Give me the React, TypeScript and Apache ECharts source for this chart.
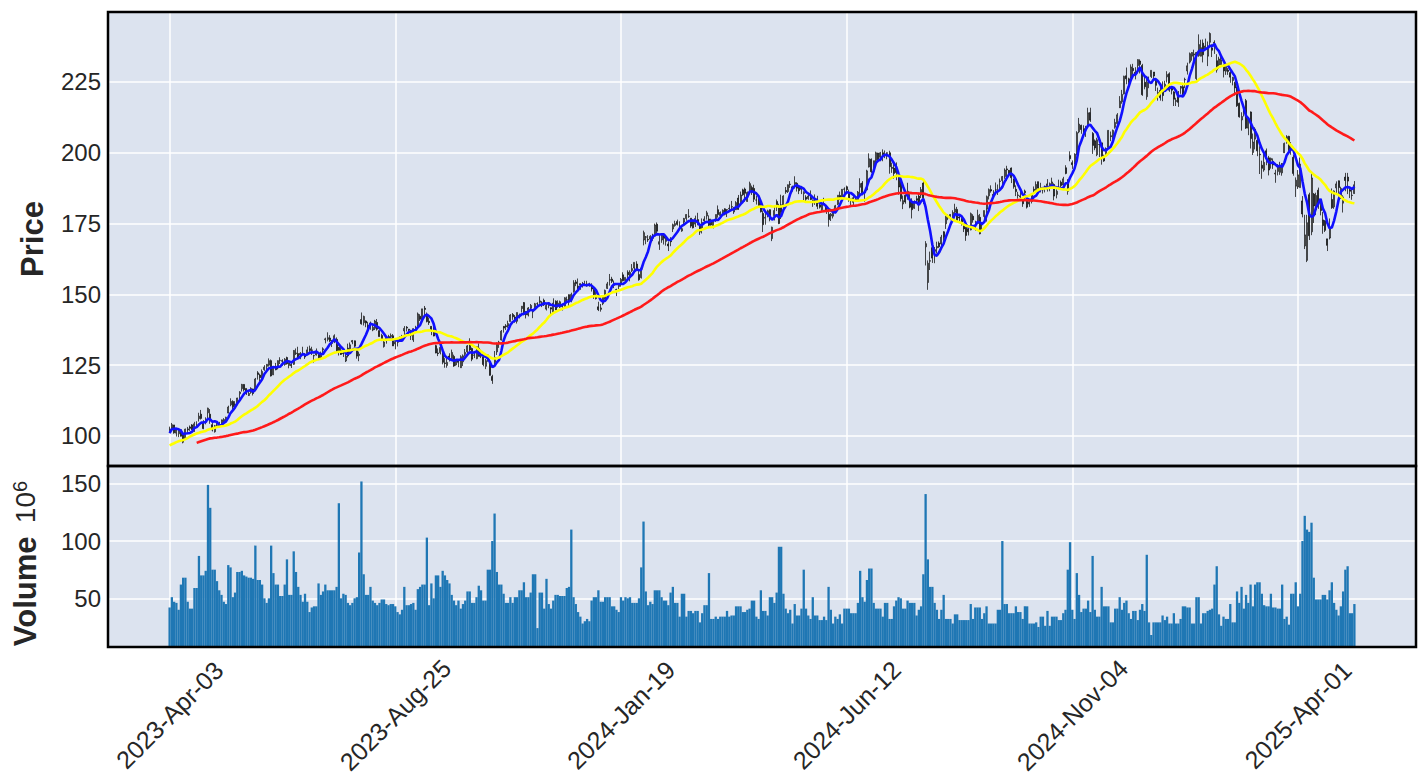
import React, { useEffect, useRef } from "react";
import * as echarts from "echarts";

// Each row: [open, high, low, close, volume (millions)] — one trading day
type Row = [number, number, number, number, number];

// Closes Jan 3 – Mar 31 2023, only used to warm up the moving averages
const closesBeforeApr2023 = [
  85.8, 85.1, 83.1, 86.1, 87.4, 89.9, 95.1, 95.3, 98.1, 96.1, 95.5, 93.7, 97.3, 97.5, 96.3, 97.2, 99.2, 102.2, 100.6, 103.1,
  105.2, 112.9, 103.4, 102.2, 102.1, 100.1, 98.2, 97.6, 99.5, 99.7, 101.2, 98.2, 97.2, 94.6, 95.8, 95.8, 93.5, 93.8, 94.2,
  92.2, 92.1, 94.9, 93.8, 93.6, 93.9, 92.3, 90.7, 92.4, 94.9, 96.2, 100.0, 99.0, 97.7, 100.6, 98.7, 98.7, 98.1, 98.0, 97.2, 100.3, 102.0, 103.3,
];

const apr2023: Row[] = [[102.3,103.3,101.0,102.4,42],[102.8,104.6,102.4,104.0,51],[103.9,103.9,100.8,101.1,47],[101.0,102.4,99.8,102.1,46],[100.8,102.2,99.6,102.2,40],[102.2,102.4,99.8,99.9,62],[100.4,100.5,97.4,97.8,68],[98.9,102.6,98.7,102.4,68],[102.1,103.2,101.1,102.5,47],[103.2,103.7,101.8,102.7,41],[103.9,104.2,102.1,102.3,41],[101.6,105.0,101.5,104.3,59],[103.5,105.2,103.2,103.8,59],[106.1,108.2,105.1,107.0,87],[107.7,109.2,105.8,106.2,70],[104.9,105.6,102.4,102.6,70],[105.0,106.6,104.1,105.0,74],[108.2,110.0,106.0,109.8,149],[107.7,109.5,104.3,105.5,129]];
const may2023: Row[] = [[104.0,105.2,101.6,102.1,75],[101.5,103.9,101.2,103.6,75],[103.7,105.0,103.3,103.7,65],[104.0,105.0,103.3,104.0,57],[104.3,105.8,103.6,105.7,53],[105.0,106.3,104.7,105.8,47],[105.6,106.8,105.2,106.6,45],[108.1,110.7,108.0,110.2,79],[111.0,113.3,110.5,112.2,77],[112.2,112.6,109.3,110.3,51],[111.1,112.3,109.3,111.2,55],[111.1,113.5,110.9,113.4,73],[114.9,115.8,112.9,115.5,73],[116.7,118.4,115.7,118.2,74],[118.2,118.3,115.7,116.3,70],[116.8,116.8,114.5,115.0,69],[114.3,115.8,114.1,115.0,68],[115.4,117.2,114.9,116.8,68],[116.6,116.7,114.3,115.0,67],[116.0,120.5,115.8,120.1,96],[122.3,122.9,119.9,121.7,66],[121.5,122.0,119.2,120.6,66]];
const jun2023: Row[] = [[120.7,123.5,119.9,122.8,62],[123.4,125.0,123.0,124.3,50],[124.6,125.4,123.0,125.3,46],[125.0,127.4,124.5,126.6,50],[126.6,127.0,121.0,121.2,96],[121.6,124.4,121.5,124.3,72],[124.1,125.8,123.2,123.4,62],[124.0,126.7,123.5,126.6,62],[126.7,127.8,125.4,126.7,52],[126.6,127.1,124.7,126.4,52],[125.2,127.5,124.8,127.1,62],[127.7,128.0,125.2,125.5,84],[124.9,126.0,123.9,125.8,53],[125.3,126.2,124.0,124.8,53],[125.3,130.3,125.1,130.2,91],[129.1,130.9,128.6,129.3,73],[129.1,131.5,127.1,127.3,60],[128.6,129.6,127.1,129.2,53],[128.9,131.5,128.4,129.0,47],[128.8,129.3,127.2,127.9,54],[129.1,131.5,128.7,130.4,47]];
const jul2023: Row[] = [[130.8,131.9,129.6,130.2,38],[130.2,131.5,128.6,130.4,42],[128.3,128.7,125.9,128.4,43],[128.6,130.9,128.4,129.8,43],[129.1,129.3,126.8,127.1,63],[127.8,129.8,127.1,128.8,53],[130.4,131.3,128.9,130.8,56],[134.0,134.7,132.7,134.3,62],[134.1,136.6,133.4,134.7,57],[134.6,135.6,133.2,133.6,57],[132.7,133.9,131.4,132.8,57],[133.4,135.9,132.8,135.4,57],[134.1,134.8,129.3,130.0,60],[131.3,131.4,128.4,130.0,133],[130.3,131.7,128.6,128.8,50],[129.3,129.6,127.9,129.1,54],[126.5,129.1,126.1,128.2,53],[131.0,132.6,127.7,128.3,46],[129.7,133.0,129.3,132.2,44],[133.2,133.9,132.4,133.7,46]];
const aug2023: Row[] = [[133.6,133.7,131.3,131.7,50],[130.2,130.2,127.3,128.2,51],[128.4,129.8,126.4,128.9,90],[141.1,143.6,139.3,139.6,152],[140.0,142.5,139.0,142.2,71],[140.6,140.8,138.4,139.9,53],[139.1,140.3,137.1,137.9,53],[139.9,140.4,137.5,138.6,60],[137.4,139.3,137.0,138.4,48],[138.0,141.0,137.4,140.6,46],[140.1,141.3,137.2,137.7,44],[137.2,137.3,135.0,135.1,46],[135.5,136.1,133.5,134.0,49],[131.6,134.1,131.2,133.2,49],[133.7,135.2,132.6,134.7,45],[135.1,135.7,133.9,134.3,44],[135.1,136.2,134.4,135.5,45],[135.4,136.0,131.8,131.8,45],[132.5,133.9,130.6,133.3,43],[133.8,133.9,131.6,133.1,38],[133.4,135.1,133.3,134.9,36],[135.1,135.7,133.9,135.1,40],[137.1,138.8,135.0,138.0,60]];
const sep2023: Row[] = [[138.4,138.8,136.9,138.1,44],[137.7,137.8,135.8,137.3,44],[136.3,137.5,133.9,135.4,45],[133.9,138.0,133.2,137.9,46],[136.9,138.9,136.8,138.2,40],[138.8,143.6,138.6,143.1,58],[142.3,143.0,140.6,141.2,60],[140.9,144.9,140.7,144.9,62],[145.1,145.9,142.7,144.7,62],[142.7,143.6,140.1,140.4,103],[140.5,141.8,139.2,140.0,44],[138.7,138.8,135.6,137.6,63],[138.6,139.7,135.2,135.3,50],[131.9,132.2,129.2,129.3,70],[129.3,130.9,128.2,129.1,70],[129.4,131.8,128.8,131.3,60],[129.7,130.4,125.3,126.0,74],[125.8,127.5,124.1,125.6,70],[124.9,127.5,124.1,126.0,66],[128.2,129.2,126.3,127.1,63]];
const oct2023: Row[] = [[127.3,130.5,126.5,129.5,53],[128.1,128.7,124.4,124.7,48],[125.1,127.2,124.8,127.0,44],[126.5,126.8,124.3,126.0,48],[124.1,128.5,124.0,128.0,41],[126.2,128.8,124.7,128.3,45],[128.8,130.7,128.1,129.5,48],[129.7,132.1,128.4,131.8,56],[132.2,134.5,129.9,130.4,56],[130.9,131.2,126.4,127.1,46],[128.5,129.6,127.5,128.6,46],[127.3,131.7,127.1,131.5,51],[131.0,132.7,128.1,128.1,61],[128.2,130.5,127.5,128.4,57],[128.0,128.3,124.6,125.2,48],[124.6,127.2,123.6,126.6,48],[127.7,128.8,126.2,128.6,75],[126.0,126.4,121.3,121.4,75],[121.0,121.6,118.4,119.6,100],[126.0,130.0,125.3,127.7,124],[129.7,133.0,128.6,132.7,73],[132.8,133.6,131.1,133.1,62]];
const nov2023: Row[] = [[133.9,137.4,133.7,137.0,62],[138.7,138.8,136.5,138.1,54],[138.9,139.5,137.4,138.6,46],[138.8,140.7,138.2,139.7,46],[140.4,143.0,140.4,142.7,51],[142.9,143.4,141.0,142.1,46],[142.0,142.7,140.0,140.6,51],[140.5,143.6,139.7,143.6,51],[142.1,143.2,141.5,142.6,57],[145.0,145.9,143.6,145.8,57],[147.1,147.3,142.6,143.2,64],[143.9,144.1,141.5,142.8,51],[142.7,145.5,142.2,145.2,51],[145.1,146.6,144.7,146.1,55],[143.9,144.1,141.6,143.9,71],[144.6,147.0,144.6,146.7,71],[146.7,147.2,145.3,146.7,24],[147.2,149.3,146.7,147.7,55],[146.9,147.6,145.5,147.0,55],[147.9,148.5,145.9,146.3,41],[144.8,146.9,144.3,146.1,67]];
const dec2023: Row[] = [[146.0,147.3,145.1,147.0,45],[145.3,145.4,142.8,144.8,41],[143.6,148.6,143.6,146.9,48],[147.6,147.9,144.5,144.5,53],[146.2,147.9,145.3,146.9,53],[145.5,147.8,145.2,147.4,52],[145.7,146.2,144.3,145.9,52],[145.5,149.0,145.4,148.8,52],[148.1,149.2,147.2,148.1,59],[149.9,150.0,145.8,147.4,60],[148.4,150.6,147.2,150.0,110],[151.0,155.0,150.6,154.1,51],[154.4,155.1,152.9,153.8,45],[152.9,155.6,151.6,152.1,38],[153.3,153.9,151.6,153.8,34],[153.8,154.4,152.4,153.4,28],[153.6,154.8,153.1,153.4,30],[153.6,154.8,152.7,153.3,32],[153.7,154.1,152.7,153.4,30],[153.1,153.9,151.0,151.9,48]];
const jan2024: Row[] = [[151.5,152.4,148.4,149.9,51],[149.2,151.1,148.2,148.5,51],[145.6,147.4,144.1,144.6,57],[144.7,146.6,143.9,145.2,47],[146.7,149.4,146.2,149.1,47],[148.3,151.7,148.2,151.4,51],[152.1,154.4,151.9,153.7,51],[155.0,157.2,153.1,155.2,51],[155.4,156.2,154.0,154.6,43],[153.5,154.9,152.2,153.2,43],[151.5,152.0,149.4,151.7,40],[152.8,154.0,151.9,153.5,38],[154.0,155.8,152.7,155.3,51],[156.9,157.8,154.6,154.8,48],[154.9,156.0,153.9,156.0,51],[157.8,158.5,155.7,156.9,50],[156.9,158.5,154.6,157.8,51],[158.4,160.7,157.9,159.1,46],[159.3,161.3,158.4,161.3,46],[160.7,161.7,158.5,159.0,46],[157.0,159.0,154.8,155.2,50]];
const feb2024: Row[] = [[155.9,159.8,155.6,159.3,77],[169.2,172.5,167.3,171.8,117],[170.2,170.6,167.7,170.3,56],[169.4,170.9,168.5,169.2,44],[169.5,170.9,168.6,170.5,47],[170.9,171.4,168.9,169.8,45],[170.6,175.0,170.6,174.5,57],[174.8,175.4,171.5,172.3,57],[167.7,170.9,165.7,168.6,57],[169.2,171.2,168.2,171.0,51],[170.6,171.2,167.6,169.8,48],[168.7,170.4,167.2,169.5,48],[167.8,168.7,165.3,167.1,44],[168.9,170.2,167.0,168.6,55],[173.1,175.0,172.0,174.6,60],[174.3,176.0,173.9,175.0,46],[175.7,176.4,174.3,174.7,46],[174.1,175.8,173.0,173.5,34],[172.4,174.0,172.1,173.2,54],[175.5,177.0,174.6,176.8,54]];
const mar2024: Row[] = [[176.8,178.3,176.0,178.2,34],[177.5,180.1,177.0,177.6,39],[176.9,176.9,173.5,174.1,39],[175.5,176.5,173.3,173.5,37],[174.8,177.8,173.8,176.8,39],[176.4,178.8,174.4,175.4,39],[174.3,174.5,171.0,172.0,29],[173.5,176.8,171.5,175.4,37],[175.9,177.6,175.6,176.6,44],[177.7,179.5,176.4,178.8,44],[176.6,177.9,173.6,174.4,72],[175.8,176.7,174.3,174.5,32],[174.2,176.1,173.3,175.9,32],[176.1,178.2,175.6,178.2,34],[179.9,181.4,177.1,178.2,32],[177.8,179.3,176.8,178.9,34],[178.0,180.0,177.8,179.7,34],[180.2,180.4,177.9,178.3,34],[179.9,180.0,177.3,179.8,39],[180.2,181.7,179.3,180.4,34]];
const apr2024: Row[] = [[180.8,183.0,179.9,181.0,35],[179.1,180.8,178.4,180.7,35],[179.9,182.9,179.8,182.4,43],[184.0,185.1,179.9,180.0,43],[182.4,186.3,181.9,185.1,43],[186.9,187.3,184.8,185.2,38],[187.2,187.7,182.7,185.7,38],[182.8,186.3,182.7,186.0,40],[186.7,189.8,185.4,189.1,41],[187.7,188.4,185.1,186.1,48],[187.4,188.7,182.6,183.6,48],[183.3,184.8,181.7,183.3,34],[184.3,184.6,180.8,181.3,32],[181.5,182.4,178.9,179.2,57],[178.6,179.6,172.0,174.6,39],[176.9,178.9,174.6,177.2,39],[178.1,179.9,177.2,179.5,35],[179.9,180.0,175.8,176.6,51],[169.7,173.9,168.8,173.7,51],[177.8,180.8,176.1,179.6,46],[182.8,183.5,179.4,181.0,55],[181.1,182.0,174.8,175.0,95]];
const may2024: Row[] = [[181.6,185.2,176.6,179.0,95],[180.9,185.0,179.4,184.7,54],[186.7,187.9,185.5,186.2,41],[186.3,188.8,185.8,188.7,37],[188.9,190.0,187.6,188.8,40],[187.4,188.4,186.3,188.0,28],[188.9,191.7,187.4,189.5,45],[189.2,189.6,186.3,187.5,35],[188.0,188.3,185.4,186.6,35],[187.6,188.3,185.4,187.1,41],[185.6,186.4,182.8,186.0,75],[184.3,185.0,182.3,183.6,41],[183.8,185.3,183.4,184.7,35],[184.3,186.7,183.3,183.5,32],[182.3,183.5,180.9,183.2,51],[183.9,185.3,181.6,183.1,35],[183.7,184.8,180.1,181.1,35],[181.6,182.4,180.3,180.8,31],[179.9,182.2,179.5,182.2,31],[181.7,184.1,181.5,182.0,34],[181.3,181.6,178.4,179.3,31],[178.3,179.2,173.9,176.4,60]];
const jun2024: Row[] = [[177.7,178.7,175.9,178.3,40],[177.6,179.8,176.8,179.3,28],[180.1,181.6,178.6,181.3,34],[181.8,185.0,181.5,185.0,32],[184.9,186.3,183.3,184.3,36],[184.1,187.2,183.9,187.1,28],[187.1,187.8,184.6,187.2,41],[188.0,188.4,185.8,186.9,41],[186.1,187.0,182.7,183.8,41],[183.1,183.7,181.5,183.7,37],[182.5,185.0,181.2,184.1,37],[183.7,184.3,182.7,182.8,37],[182.9,186.5,182.7,186.1,46],[187.8,191.0,185.1,189.1,74],[189.3,190.0,185.0,185.6,51],[186.5,186.5,182.7,186.3,47],[186.9,194.0,186.6,193.6,66],[195.0,199.8,194.8,197.9,76],[197.7,198.0,192.9,193.3,76]];
const jul2024: Row[] = [[193.6,197.2,192.5,197.2,46],[197.3,200.4,195.9,200.0,41],[199.9,200.0,196.7,197.6,41],[198.4,200.3,197.0,200.0,41],[200.0,201.2,197.0,199.3,34],[199.5,200.8,198.1,199.3,46],[200.0,200.1,197.7,199.8,46],[200.0,200.7,192.6,195.1,32],[194.8,196.5,192.9,194.5,32],[194.6,196.2,190.8,192.7,43],[195.6,196.6,190.3,193.0,48],[191.4,191.6,185.2,187.9,51],[189.6,189.7,182.8,183.8,50],[181.9,184.9,180.1,183.1,41],[185.0,185.1,182.0,182.6,41],[184.1,189.4,183.4,186.4,48],[183.2,185.4,180.4,180.8,46],[182.9,183.9,176.8,179.9,46],[180.4,183.2,180.2,182.5,46],[183.8,184.8,182.0,183.2,35],[184.7,185.9,179.4,181.7,40],[185.1,187.9,184.0,187.0,43]];
const aug2024: Row[] = [[189.3,190.6,181.9,184.1,71],[166.8,168.8,160.2,167.9,141],[154.2,162.0,151.6,161.0,84],[161.7,165.1,158.6,161.9,60],[166.5,167.6,161.1,162.8,60],[165.2,166.7,161.0,165.8,46],[166.4,168.6,164.4,166.9,40],[168.1,168.7,166.4,166.8,32],[167.8,171.0,166.7,170.2,40],[172.1,172.3,168.9,170.1,53],[174.9,177.7,173.1,177.6,32],[177.0,178.3,176.2,177.1,32],[177.6,178.3,176.2,178.2,32],[177.9,179.7,177.1,178.9,28],[179.0,182.0,178.0,180.1,36],[180.0,180.9,176.0,176.1,36],[177.3,178.3,175.2,177.0,31],[176.7,177.5,174.3,175.5,31],[174.7,175.2,172.0,173.1,31],[173.7,173.7,168.9,170.8,31],[173.2,174.3,170.8,172.1,31],[172.8,178.9,172.6,178.5,45]];
const sep2024: Row[] = [[177.6,178.3,175.3,176.3,32],[174.5,176.0,172.5,173.3,42],[175.0,179.9,174.9,177.9,42],[177.2,178.4,171.2,171.4,42],[174.5,175.5,172.7,175.4,32],[177.5,179.6,175.7,179.6,37],[180.1,184.9,175.7,184.5,43],[184.8,187.4,183.5,187.0,28],[187.0,188.5,185.9,186.5,28],[185.3,186.8,184.0,184.9,28],[186.9,189.5,186.0,186.9,28],[186.5,188.8,185.1,186.4,40],[190.0,190.9,186.8,189.9,40],[190.2,191.8,187.4,191.6,100],[191.6,194.5,190.8,193.9,45],[194.3,195.4,190.1,194.0,45],[193.8,193.9,191.6,192.5,37],[194.6,194.8,189.3,191.2,37],[190.7,190.9,187.3,188.0,37],[187.1,188.5,184.7,186.3,43]];
const oct2024: Row[] = [[184.9,186.2,183.8,185.1,38],[184.4,186.6,183.5,184.8,38],[183.0,183.4,180.9,182.0,32],[185.8,187.0,183.3,186.5,43],[182.9,183.6,180.3,180.8,43],[181.9,183.1,180.9,182.7,28],[182.8,185.8,182.1,185.2,28],[187.1,188.1,185.8,186.7,28],[186.6,189.9,186.3,188.8,29],[189.8,189.8,186.4,187.5,25],[187.6,189.4,186.0,187.7,34],[187.1,187.8,185.6,186.9,34],[188.2,188.4,186.0,187.5,26],[187.2,190.7,186.3,189.0,39],[188.1,189.5,186.4,189.1,26],[188.4,191.2,187.6,189.7,34],[188.8,189.2,183.2,184.7,34],[185.3,187.1,183.9,186.4,34],[187.9,190.5,187.2,187.8,31],[189.6,190.2,187.6,188.4,31],[188.6,191.5,187.8,190.8,37],[194.7,195.6,192.4,192.7,40],[190.5,190.6,185.2,186.4,75]];
const nov2024: Row[] = [[199.0,200.5,197.0,197.9,99],[196.5,197.3,194.3,195.8,40],[196.0,199.8,195.9,199.5,32],[200.0,207.6,199.1,207.1,72],[207.4,212.3,206.9,210.1,53],[209.7,209.9,206.7,208.2,38],[208.5,209.7,206.0,206.8,41],[208.4,209.5,205.6,208.9,41],[209.4,215.9,209.1,214.1,48],[214.2,215.9,210.9,211.5,38],[206.8,207.3,199.6,202.6,87],[204.2,204.7,200.9,201.7,40],[199.3,205.3,198.8,204.6,34],[202.9,203.1,198.5,202.9,34],[203.5,203.5,195.8,198.4,60],[198.3,199.3,196.8,197.1,43],[199.3,201.9,199.0,201.5,43],[201.9,208.0,201.8,207.9,43],[206.0,207.5,204.1,205.7,29],[205.8,208.2,204.6,207.9,29]];
const dec2024: Row[] = [[209.0,212.0,208.5,210.7,41],[210.3,214.0,209.9,213.4,41],[215.9,220.0,215.8,218.2,51],[218.0,222.2,217.3,220.6,40],[220.8,227.2,220.6,227.0,46],[227.2,230.1,224.2,226.1,48],[226.1,226.5,222.8,225.0,37],[226.4,231.2,226.3,230.3,32],[229.8,231.4,227.6,229.0,39],[228.4,230.2,225.9,227.5,39],[230.8,233.0,228.0,232.9,31],[232.4,233.0,228.0,231.2,40],[230.8,231.4,220.1,220.5,45],[224.9,226.9,222.4,223.3,39],[219.8,226.2,218.7,224.9,88],[225.0,226.9,222.8,225.1,29],[226.9,229.1,226.4,229.1,18],[228.5,228.5,225.7,227.1,29],[225.6,226.0,221.8,223.8,29],[220.1,223.0,218.4,221.3,29],[222.0,223.2,218.4,219.4,29]];
const jan2025: Row[] = [[222.0,225.2,218.2,220.2,35],[222.5,225.4,221.6,224.2,31],[226.8,228.8,224.8,227.6,34],[227.9,228.4,221.5,222.1,28],[223.2,223.5,220.6,222.1,28],[221.5,221.7,216.5,218.9,37],[218.1,219.4,216.5,218.5,28],[220.4,221.8,216.2,217.8,28],[222.8,223.6,220.8,223.4,32],[223.3,224.7,220.1,220.7,43],[225.8,226.5,222.8,225.9,43],[228.9,231.8,227.6,230.7,42],[232.0,235.4,231.5,235.0,42],[234.1,235.5,232.5,235.4,28],[234.5,236.4,232.6,234.9,28],[226.2,235.6,225.5,235.4,51],[234.3,241.8,233.9,238.2,51],[234.1,239.9,234.0,237.1,28],[238.7,240.0,231.9,234.6,37],[236.5,240.3,236.4,237.7,37]];
const feb2025: Row[] = [[234.1,239.3,230.6,237.4,39],[239.0,242.5,238.0,242.1,40],[237.0,238.3,233.8,236.2,41],[239.0,239.7,234.9,238.8,62],[232.5,234.8,228.3,229.2,78],[231.0,233.9,229.7,233.1,36],[231.1,235.2,230.8,232.8,26],[230.5,231.2,226.6,228.9,34],[228.8,230.4,227.5,230.4,32],[229.2,229.9,227.5,228.7,32],[228.3,228.8,224.7,226.7,45],[225.5,226.8,223.8,226.6,29],[224.8,225.1,220.2,222.9,29],[223.3,223.3,216.2,216.6,56],[217.5,217.7,212.4,212.7,46],[211.6,214.3,207.8,212.8,60],[214.9,217.2,212.8,214.4,41],[218.4,219.0,208.4,208.7,53],[208.7,212.6,206.2,212.3,46]];
const mar2025: Row[] = [[214.4,214.6,201.5,205.0,62],[200.1,206.8,199.2,203.8,43],[204.8,209.0,201.2,208.4,62],[204.4,205.8,198.8,200.7,64],[199.5,202.3,192.5,199.3,64],[195.6,197.2,190.8,194.5,54],[193.9,200.2,193.3,196.6,44],[200.7,201.5,195.6,198.9,43],[198.2,198.9,192.0,193.9,43],[197.4,198.3,194.4,198.0,54],[197.0,198.0,194.3,195.7,42],[192.5,194.0,189.4,192.8,42],[193.4,196.0,192.0,195.5,41],[193.1,196.8,192.2,195.0,41],[192.9,196.0,191.9,196.2,62],[200.0,203.6,199.9,203.3,32],[203.6,206.2,203.2,205.7,34],[205.8,206.0,199.9,201.1,27],[200.9,203.8,199.3,201.4,54],[198.4,199.3,191.9,192.7,54],[188.2,191.3,184.4,190.3,64]];
const apr2025: Row[] = [[187.9,193.9,187.2,192.2,43],[187.7,198.3,187.7,196.0,54],[183.0,184.7,177.2,178.4,100],[167.1,178.1,166.0,171.0,122],[162.0,178.1,161.4,175.3,110],[185.2,185.9,169.2,170.7,108],[172.1,192.7,170.9,191.1,116],[185.4,185.8,175.2,181.2,68],[179.9,185.9,178.0,184.9,49],[186.8,187.7,180.2,182.1,49],[181.4,182.4,177.9,179.6,49],[176.3,179.1,171.4,174.3,53],[176.0,176.2,172.0,172.6,53],[169.6,169.6,165.3,167.3,49],[169.9,176.8,169.4,173.2,57],[183.5,187.4,180.2,180.6,64],[180.9,186.7,180.2,186.5,46],[187.6,189.9,185.5,189.0,40],[190.1,190.2,184.9,187.7,35],[183.9,188.0,183.7,187.4,43],[182.2,185.0,178.9,184.4,56]];
const may2025: Row[] = [[191.4,192.9,186.4,190.2,75],[191.4,192.9,185.4,190.0,78],[186.9,188.1,184.0,186.4,37],[184.9,187.2,183.4,185.0,37],[185.6,190.0,185.5,188.7,45]];

const rows: Row[] = [
  ...apr2023, ...may2023, ...jun2023, ...jul2023, ...aug2023, ...sep2023, ...oct2023, ...nov2023, ...dec2023,
  ...jan2024, ...feb2024, ...mar2024, ...apr2024, ...may2024, ...jun2024, ...jul2024, ...aug2024, ...sep2024,
  ...oct2024, ...nov2024, ...dec2024, ...jan2025, ...feb2025, ...mar2025, ...apr2025, ...may2025,
];

// x-axis ticks: trading-day index -> date label
const tickIndex = [0, 100, 200, 300, 400, 500];
const tickLabels = ["2023-Apr-03", "2023-Aug-25", "2024-Jan-19", "2024-Jun-12", "2024-Nov-04", "2025-Apr-01"];
const priceTicks = [100, 125, 150, 175, 200, 225];
const volumeTicks = [50, 100, 150];

// moving averages (window, colour)
const maWindows = [5, 25, 75];
const maColors = ["#1010ff", "#ffff00", "#ff1a1a"];

const FONT = "'Liberation Sans', Arial, 'DejaVu Sans', sans-serif";
const TEXT = "#262626";

function sma(all: number[], w: number, offset: number): [number, number][] {
  const out: [number, number][] = [];
  for (let i = offset; i < all.length; i++) {
    if (i - w + 1 < 0) continue;
    let s = 0;
    for (let k = i - w + 1; k <= i; k++) s += all[k];
    out.push([i - offset, s / w]);
  }
  return out;
}

export default function App() {
  const ref = useRef<HTMLDivElement>(null);
  useEffect(() => {
    if (!ref.current) return;
    const chart = echarts.init(ref.current, undefined, { renderer: "svg" });
    const closes = rows.map((r) => r[3]);
    const allCloses = [...closesBeforeApr2023, ...closes];
    const offset = closesBeforeApr2023.length;
    const candles = rows.map((r, i) => [i, r[0], r[3], r[2], r[1]]);
    const volumes = rows.map((r, i) => [i, r[4]]);

    const L = 108, W = 1308;
    const pTop = 12, pH = 454, vTop = 466, vH = 181;
    const xMin = -27.3, xMax = 552.3;

    const xLabel = (v: number) => {
      const k = tickIndex.indexOf(Math.round(v));
      return k >= 0 ? tickLabels[k] : "";
    };

    const splitLine = { show: true, lineStyle: { color: "#ffffff", width: 1.5 } };
    const hiddenTick = (vals: number[]) => ({ show: false, customValues: vals });

    chart.setOption({
      animation: false,
      backgroundColor: "#ffffff",
      textStyle: { fontFamily: FONT },
      grid: [
        { left: L, top: pTop, width: W, height: pH, show: true, backgroundColor: "#DCE3EF", borderWidth: 0 },
        { left: L, top: vTop, width: W, height: vH, show: true, backgroundColor: "#DCE3EF", borderWidth: 0 },
      ],
      xAxis: [
        {
          type: "value", gridIndex: 0, min: xMin, max: xMax,
          axisLine: { show: false }, axisTick: hiddenTick(tickIndex), axisLabel: { show: false, customValues: tickIndex }, splitLine,
        },
        {
          type: "value", gridIndex: 1, min: xMin, max: xMax,
          axisLine: { show: false }, axisTick: hiddenTick(tickIndex), splitLine,
          axisLabel: {
            show: true, customValues: tickIndex, rotate: 45, align: "center", verticalAlign: "middle", margin: 68,
            fontSize: 25, color: TEXT, fontFamily: FONT, formatter: xLabel,
          },
        },
      ],
      yAxis: [
        {
          type: "value", gridIndex: 0, min: 89.4, max: 249.7,
          axisLine: { show: false }, axisTick: hiddenTick(priceTicks), splitLine,
          axisLabel: { customValues: priceTicks, fontSize: 24, color: TEXT, fontFamily: FONT, margin: 7 },
          name: "Price", nameLocation: "middle", nameGap: 60,
          nameTextStyle: { fontSize: 31, fontWeight: "bold", color: TEXT, fontFamily: FONT },
        },
        {
          type: "value", gridIndex: 1, min: 7.5, max: 165.5,
          axisLine: { show: false }, axisTick: hiddenTick(volumeTicks), splitLine,
          axisLabel: { customValues: volumeTicks, fontSize: 24, color: TEXT, fontFamily: FONT, margin: 7 },
          name: "{v|Volume}    {n|10}{s|6}", nameLocation: "middle", nameGap: 67,
          nameTextStyle: {
            color: TEXT, fontFamily: FONT, padding: [0, 14, 0, 0],
            rich: {
              v: { fontSize: 31, fontWeight: "bold", color: TEXT, fontFamily: FONT },
              n: { fontSize: 28, color: TEXT, fontFamily: FONT },
              s: { fontSize: 20, color: TEXT, fontFamily: FONT, verticalAlign: "top" },
            },
          },
        },
      ],
      series: [
        {
          type: "candlestick", xAxisIndex: 0, yAxisIndex: 0, data: candles,
          encode: { x: 0, y: [1, 2, 3, 4] }, barWidth: 1.5, z: 2,
          itemStyle: { color: "#ffffff", color0: "#000000", borderColor: "#000000", borderColor0: "#000000", borderWidth: 1, opacity: 0.7 },
        },
        ...maWindows.map((w, k) => ({
          type: "line", xAxisIndex: 0, yAxisIndex: 0, data: sma(allCloses, w, offset),
          showSymbol: false, symbol: "none", z: 3 + k,
          lineStyle: { color: maColors[k], width: 2.6 },
        })),
        {
          type: "bar", xAxisIndex: 1, yAxisIndex: 1, data: volumes, barWidth: 2.3,
          itemStyle: { color: "#1f77b4" }, z: 2,
        },
      ],
      graphic: [
        { type: "rect", silent: true, z: 100, shape: { x: L, y: pTop, width: W, height: pH }, style: { fill: "none", stroke: "#000000", lineWidth: 2.5 } },
        { type: "rect", silent: true, z: 100, shape: { x: L, y: vTop, width: W, height: vH }, style: { fill: "none", stroke: "#000000", lineWidth: 2.5 } },
      ],
    });
    return () => chart.dispose();
  }, []);
  return <div ref={ref} style={{ position: "absolute", left: 0, top: 0, width: 1421, height: 780 }} />;
}
